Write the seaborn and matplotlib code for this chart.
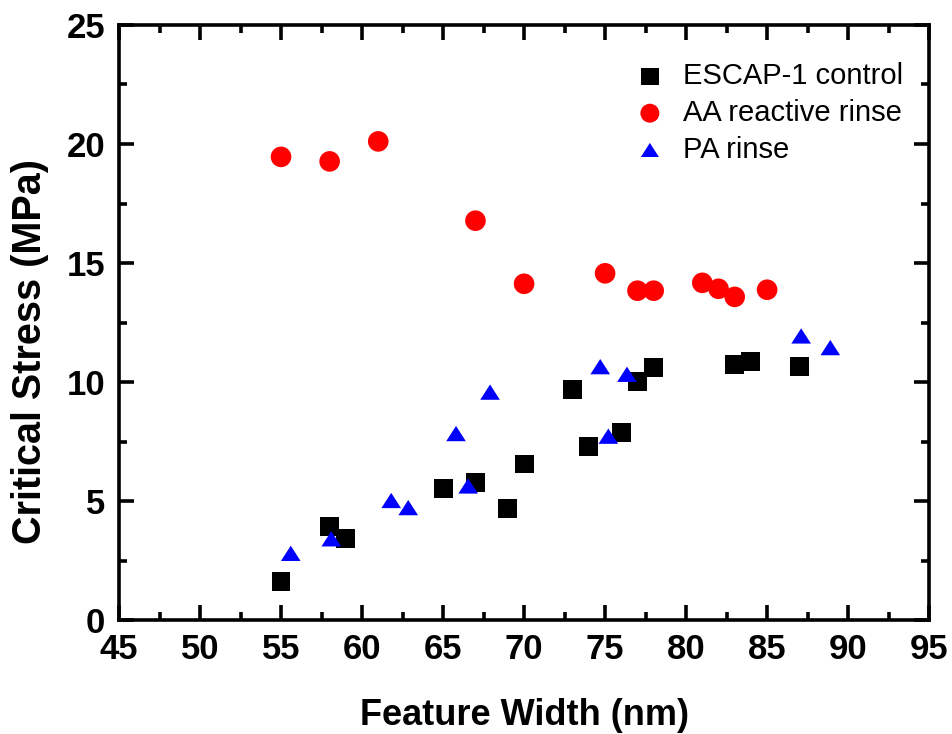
import matplotlib
matplotlib.use("Agg")
import matplotlib.pyplot as plt
import seaborn as sns
import numpy as np
import pandas as pd
from matplotlib.ticker import MultipleLocator

# Data
ctrl_x = [55, 58, 59, 65, 67, 69, 70, 73, 74, 76, 77, 78, 83, 84, 87]
ctrl_y = [1.62, 3.94, 3.43, 5.54, 5.79, 4.71, 6.56, 9.70, 7.31, 7.90, 10.04, 10.60, 10.75, 10.88, 10.67]

aa_x = [55, 58, 61, 67, 70, 75, 77, 78, 81, 82, 83, 85]
aa_y = [19.46, 19.27, 20.11, 16.78, 14.13, 14.57, 13.84, 13.84, 14.17, 13.92, 13.58, 13.88]

pa_x = [55.6, 58.1, 61.8, 62.85, 65.8, 66.55, 67.9, 74.7, 75.2, 76.35, 87.1, 88.9]
pa_y = [2.81, 3.42, 5.03, 4.73, 7.84, 5.64, 9.58, 10.65, 7.73, 10.33, 11.94, 11.45]

labels = ["ESCAP-1 control", "AA reactive rinse", "PA rinse"]

sns.set_style("white")
plt.rcParams['font.family'] = ['Liberation Sans', 'DejaVu Sans']
plt.rcParams['text.color'] = 'black'
plt.rcParams['axes.labelcolor'] = 'black'

fig = plt.figure(figsize=(9.52, 7.34), dpi=100)
ax = fig.add_axes([0.125, 0.155, 0.851, 0.811])

tri = [(-1, -0.78), (1, -0.78), (0, 0.78)]

sns.scatterplot(x=ctrl_x, y=ctrl_y, ax=ax, marker="s", s=185, color="black",
                edgecolor="none", label=labels[0], zorder=3)
sns.scatterplot(x=aa_x, y=aa_y, ax=ax, marker="o", s=220, color="#ff0000",
                edgecolor="none", label=labels[1], zorder=3)
sns.scatterplot(x=pa_x, y=pa_y, ax=ax, marker=tri, s=200, color="#0000ff",
                edgecolor="none", label=labels[2], zorder=3)

ax.set_xlim(45, 95)
ax.set_ylim(0, 25)
ax.xaxis.set_major_locator(MultipleLocator(5))
ax.xaxis.set_minor_locator(MultipleLocator(2.5))
ax.yaxis.set_major_locator(MultipleLocator(5))
ax.yaxis.set_minor_locator(MultipleLocator(2.5))

for sp in ax.spines.values():
    sp.set_linewidth(2.6)
    sp.set_color("black")
    sp.set_visible(True)

ax.tick_params(which="both", direction="in", top=True, right=True,
               bottom=True, left=True, width=2.6, colors="black",
               labelcolor="black")
ax.tick_params(which="major", length=11, labelsize=25)
ax.tick_params(axis="x", which="major", pad=9)
ax.tick_params(axis="y", which="major", pad=10)
ax.tick_params(which="minor", length=6)
for lab in ax.get_xticklabels() + ax.get_yticklabels():
    lab.set_fontweight("bold")

ax.set_xlabel("Feature Width (nm)", fontsize=26, fontweight="bold", labelpad=23)
ax.set_ylabel("Critical Stress (MPa)", fontsize=28.5, fontweight="bold")
ax.yaxis.set_label_coords(-0.087, 0.452)

leg = ax.legend(loc="upper right", bbox_to_anchor=(0.99, 0.967), frameon=False,
                fontsize=21, handletextpad=0.15, labelspacing=0.3,
                markerscale=0.92, borderaxespad=0.2)

fig.savefig("out.png", dpi=100)
